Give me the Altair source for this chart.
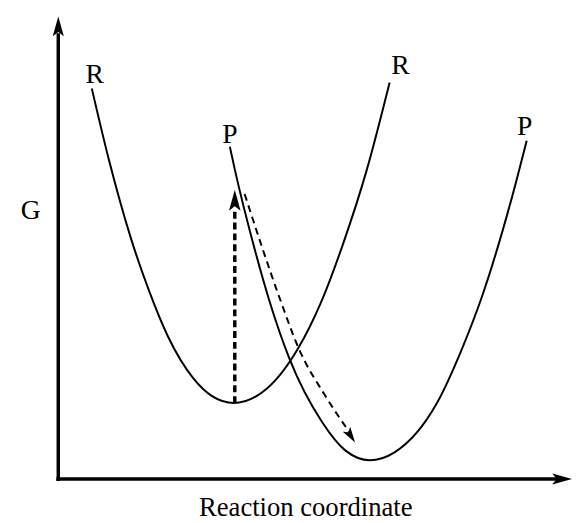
import altair as alt
import pandas as pd

# ---- data (diagram units: reaction coordinate, free energy G) ----
r_x = [34, 51, 74, 92, 111, 137, 156, 178, 201, 221, 243, 266, 289, 313, 336]
r_g = [396, 325, 243, 191, 145, 102, 84, 77, 84, 101, 132, 178, 239, 314, 402]

p_x = [174, 179, 200, 214, 234, 268, 291, 316, 341, 384, 409, 429, 458, 475]
p_g = [337, 314, 230, 181, 123, 57, 29, 19, 27, 77, 131, 183, 278, 343]

# vertical excitation (dashed, thick)
v_x = [179, 179]
v_g = [77, 272]

# relaxation path along P (dashed, thin)
d_x = [189, 206, 225, 244, 271, 297]
d_g = [289, 237, 182, 132, 84, 45]

# arrow heads: tip position, length (px), direction (deg)
head_x = [0, 521, 179, 301]
head_g = [469, 0, 293, 37]
head_len = [20, 20, 21, 16]
head_ang = [0, 90, 0, 147]

# axes
ax_x = [0, -2]
ax_g = [-2, 0]
ax_x2 = [0, 506]
ax_g2 = [452, 0]

# labels
lab_text = ["R", "R", "P", "P", "G"]
lab_x = [37, 347, 174, 473, -28]
lab_g = [402, 411, 341, 349, 264]

title_text = ["Reaction coordinate"]
title_x = [251]
title_g = [-38]

X_DOM = [-51, 522]
G_DOM = [-41, 474]
FONT = "Liberation Serif"

xs = alt.Scale(domain=X_DOM, nice=False, zero=False)
ys = alt.Scale(domain=G_DOM, nice=False, zero=False)


def X(f="x"):
    return alt.X(f"{f}:Q", scale=xs, axis=None)


def Y(f="g"):
    return alt.Y(f"{f}:Q", scale=ys, axis=None)


curves = pd.DataFrame(
    [{"curve": "R", "i": i, "x": a, "g": b} for i, (a, b) in enumerate(zip(r_x, r_g))]
    + [{"curve": "P", "i": i, "x": a, "g": b} for i, (a, b) in enumerate(zip(p_x, p_g))]
)

curve_layer = alt.Chart(curves).mark_line(
    color="black", strokeWidth=2, interpolate="monotone"
).encode(x=X(), y=Y(), detail="curve:N", order="i:Q")

vert = pd.DataFrame({"x": v_x, "g": v_g, "i": [0, 1]})
vert_layer = alt.Chart(vert).mark_line(
    color="black", strokeWidth=3.5, strokeDash=[7, 4]
).encode(x=X(), y=Y(), order="i:Q")

relax = pd.DataFrame({"x": d_x, "g": d_g, "i": list(range(len(d_x)))})
relax_layer = alt.Chart(relax).mark_line(
    color="black", strokeWidth=2, strokeDash=[7, 5], interpolate="monotone"
).encode(x=X(), y=Y(), order="i:Q")

axes = pd.DataFrame({"x": ax_x, "g": ax_g, "x2": ax_x2, "g2": ax_g2})
axes_layer = alt.Chart(axes).mark_rule(color="black", strokeWidth=3.5).encode(
    x=X(), y=Y(), x2="x2:Q", y2="g2:Q"
)

heads = pd.DataFrame({
    "x": head_x, "g": head_g,
    "size": [(2 * L / 1.6) ** 2 for L in head_len],
    "ang": head_ang,
})
ARROW = "M0,0 L0.45,1.6 L0,1.25 L-0.45,1.6 Z"
heads_layer = alt.Chart(heads).mark_point(
    shape=ARROW, filled=True, color="black", opacity=1, strokeWidth=0
).encode(
    x=X(), y=Y(),
    size=alt.Size("size:Q", scale=None, legend=None),
    angle=alt.Angle("ang:Q", scale=None),
)

labels = pd.DataFrame({"t": lab_text, "x": lab_x, "g": lab_g})
labels_layer = alt.Chart(labels).mark_text(
    font=FONT, fontSize=28, color="black", align="center", baseline="alphabetic"
).encode(x=X(), y=Y(), text="t:N")

title = pd.DataFrame({"t": title_text, "x": title_x, "g": title_g})
title_layer = alt.Chart(title).mark_text(
    font=FONT, fontSize=27, color="black", align="center", baseline="alphabetic"
).encode(x=X(), y=Y(), text="t:N")

chart = alt.layer(
    axes_layer, curve_layer, vert_layer, relax_layer, heads_layer,
    labels_layer, title_layer
).properties(
    width=573, height=515, padding=0,
    autosize=alt.AutoSizeParams(type="none"),
).configure_view(stroke=None)

chart.save("out.html", embed_options={"renderer": "svg", "actions": False})
